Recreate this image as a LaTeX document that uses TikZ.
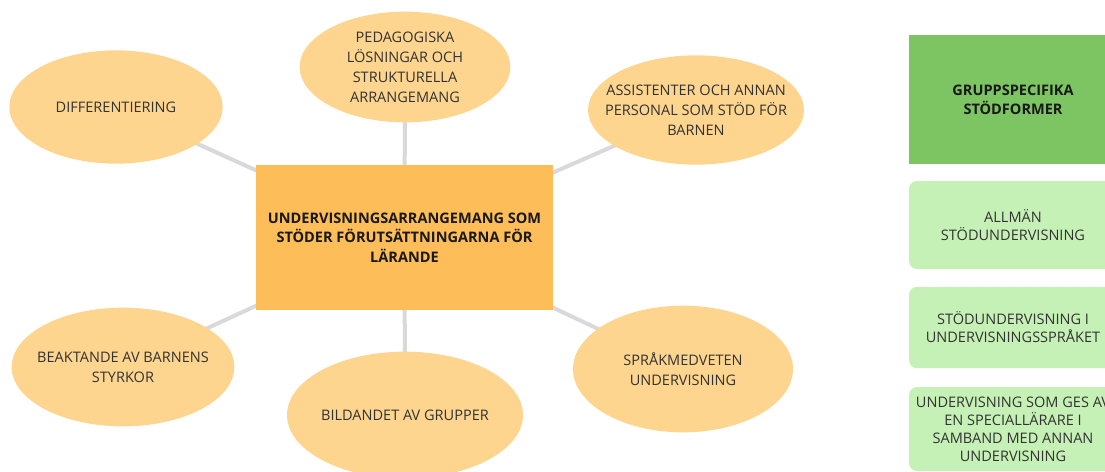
\documentclass[tikz,border=0pt]{standalone}
\usepackage{fontspec}
\setmainfont{Open Sans}
\usetikzlibrary{shapes.geometric,backgrounds}

\definecolor{ideafill}{HTML}{FDD58E}
\definecolor{corefill}{HTML}{FDBD59}
\definecolor{headfill}{HTML}{7DC463}
\definecolor{formfill}{HTML}{C6F1B6}
\definecolor{linkgray}{HTML}{D9D9D9}
\definecolor{textgray}{HTML}{333333}

\begin{document}
\begin{tikzpicture}[x=0.75pt,y=-0.75pt,
    idea/.style={ellipse, fill=ideafill, inner xsep=-12pt, inner ysep=-6pt, align=center, text=textgray, font=\fontsize{10.9}{15}\selectfont},
    core/.style={rectangle, fill=corefill, inner sep=0pt, align=center, text=black!90, font=\bfseries\fontsize{10.9}{14.5}\selectfont},
    formbox/.style={rectangle, rounded corners=6pt, fill=formfill, inner sep=0pt, minimum width=156pt, align=center, text=textgray, font=\fontsize{10.9}{13.5}\selectfont},
    link/.style={linkgray, line width=3pt}]
            % fix the page to the reference size
            \clip (0,0) rectangle (1105,471);

            % central box
            \node[core, minimum width=223pt, minimum height=109pt] (core) at (404.5,237.5) {UNDERVISNINGSARRANGEMANG SOM\\STÖDER FÖRUTSÄTTNINGARNA FÖR\\LÄRANDE};

            % ellipses round it
            \node[idea, minimum width=160pt, minimum height=85pt] (diff) at (116,107) {DIFFERENTIERING};
            \node[idea, minimum width=158pt, minimum height=83pt] (ped) at (405,67) {PEDAGOGISKA\\LÖSNINGAR OCH\\STRUKTURELLA\\ARRANGEMANG};
            \node[idea, minimum width=162pt, minimum height=82pt] (assist) at (696,110) {ASSISTENTER OCH ANNAN\\PERSONAL SOM STÖD FÖR\\BARNEN};
            \node[idea, minimum width=167pt, minimum height=89pt] (styrkor) at (123,367) {BEAKTANDE AV BARNENS\\STYRKOR};
            \node[idea, minimum width=177pt, minimum height=95pt] (grupper) at (405,415) {BILDANDET AV GRUPPER};
            \node[idea, minimum width=165pt, minimum height=95pt] (sprak) at (683,369) {SPRÅKMEDVETEN\\UNDERVISNING};

            % connectors behind the shapes
            \begin{scope}[on background layer]
                \foreach \n in {diff,ped,assist,styrkor,grupper,sprak} {
                    \draw[link] (core.center) -- (\n.center);
                }
            \end{scope}

            % right column
            \node[rectangle, fill=headfill, inner sep=0pt, minimum width=156pt, minimum height=97pt, align=center, text=black!90, font=\bfseries\fontsize{10.9}{14}\selectfont] (head) at (1013,99.5) {GRUPPSPECIFIKA\\STÖDFORMER};
            \node[formbox, minimum height=66pt] (allman) at (1013,225) {ALLMÄN\\STÖDUNDERVISNING};
            \node[formbox, minimum height=61pt] (sprakstod) at (1013,327.5) {STÖDUNDERVISNING I\\UNDERVISNINGSSPRÅKET};
            \node[formbox, minimum height=63pt] (special) at (1013,429) {UNDERVISNING SOM GES AV\\EN SPECIALLÄRARE I\\SAMBAND MED ANNAN\\UNDERVISNING};
        \end{tikzpicture}
\end{document}
